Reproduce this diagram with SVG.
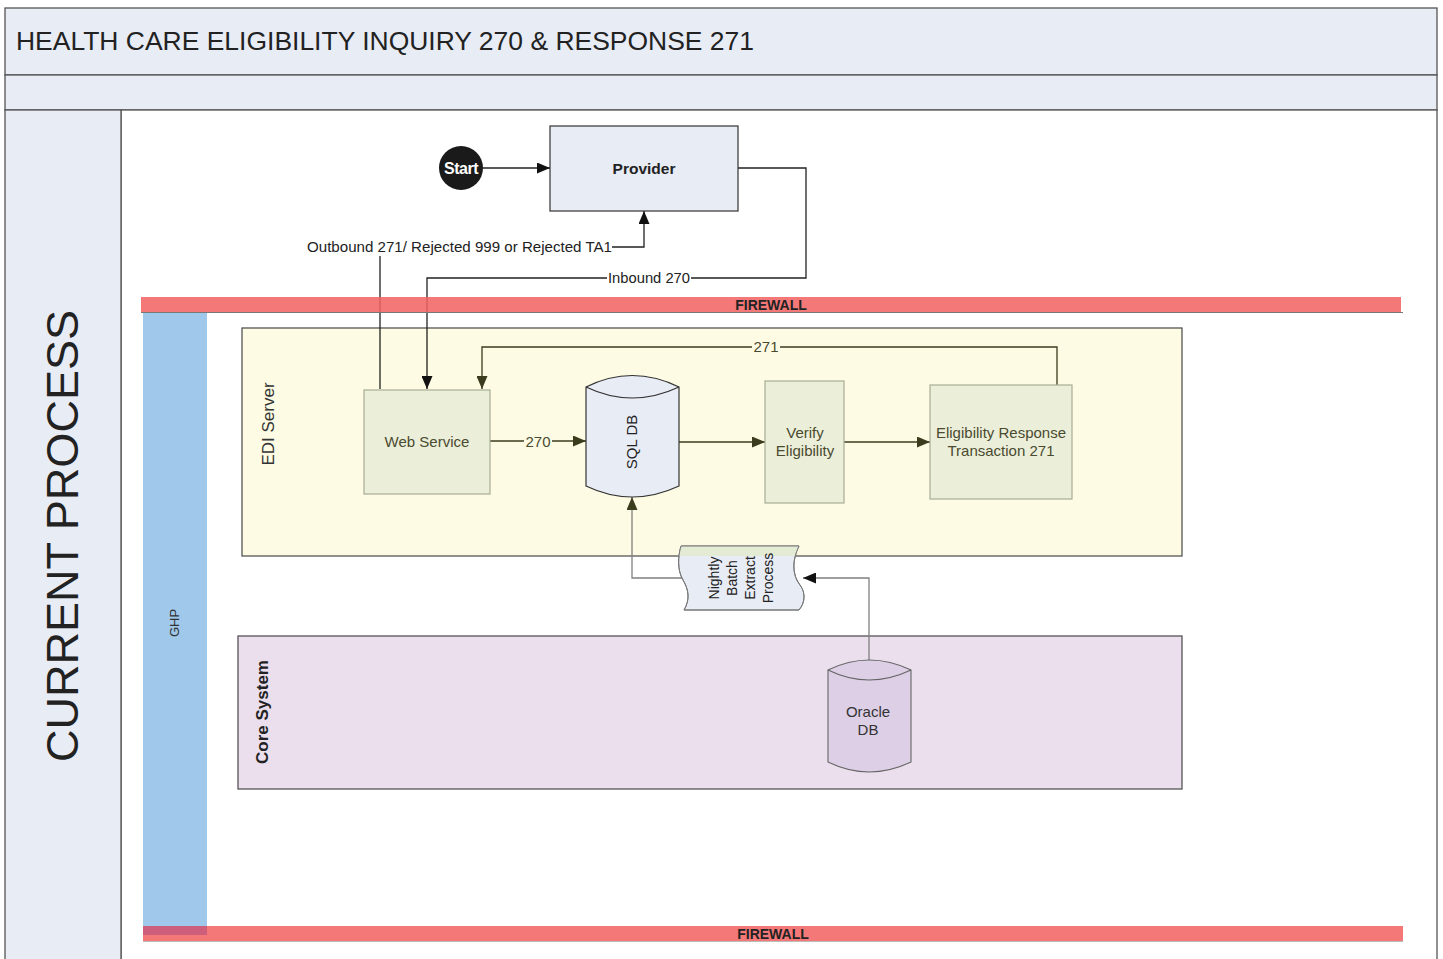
<svg xmlns="http://www.w3.org/2000/svg" width="1443" height="959" viewBox="0 0 1443 959">
<style>
text{font-family:"Liberation Sans",Arial,sans-serif;}
.band{fill:#e8ecf5;stroke:#555;stroke-width:1.3;}
.node{stroke-width:1;}
.lbl{font-size:15px;fill:#4a4a30;text-anchor:middle;}
.clbl{font-size:14.5px;fill:#222;text-anchor:middle;}
.conn{fill:none;stroke-width:1.3;}
.blk{stroke:#222;}
.olv{stroke:#3b3b1e;}
.gry{stroke:#808080;}
.fw{fill:#f26464;fill-opacity:0.87;}
.fwtxt{font-size:14px;font-weight:bold;fill:#222;text-anchor:middle;}
</style>
<defs>
<marker id="ahB" markerUnits="userSpaceOnUse" markerWidth="13" markerHeight="11" refX="13" refY="5.5" orient="auto"><path d="M0,0 L13,5.5 L0,11 z" fill="#111"/></marker>
<marker id="ahO" markerUnits="userSpaceOnUse" markerWidth="13" markerHeight="11" refX="13" refY="5.5" orient="auto"><path d="M0,0 L13,5.5 L0,11 z" fill="#3b3b1e"/></marker>
<clipPath id="topclip"><rect x="600" y="500" width="300" height="56"/></clipPath>
</defs>
<rect width="1443" height="959" fill="#fff"/>
<g id="frame">
<rect class="band" x="5" y="8" width="1432" height="67"/>
<text x="16" y="50" font-size="26" fill="#222" textLength="738" lengthAdjust="spacingAndGlyphs">HEALTH CARE ELIGIBILITY INQUIRY 270 &amp; RESPONSE 271</text>
<rect class="band" x="5" y="75" width="1432" height="35"/>
<rect x="121" y="110" width="1316" height="860" fill="#fff" stroke="#555" stroke-width="1.3"/>
<rect class="band" x="5" y="110" width="116" height="860"/>
<text transform="translate(78,536) rotate(-90)" font-size="45" fill="#222" text-anchor="middle" textLength="452" lengthAdjust="spacingAndGlyphs">CURRENT PROCESS</text>
</g>
<g id="ghp">
<rect x="143" y="313" width="64" height="622" fill="#9fc8ea"/>
<text transform="translate(179,623) rotate(-90)" font-size="13" fill="#333" text-anchor="middle">GHP</text>
</g>
<g id="edi-server">
<rect x="242" y="328" width="940" height="228" fill="#fdfbe3" stroke="#555" stroke-width="1.3"/>
<text transform="translate(274,424) rotate(-90)" font-size="17" fill="#333" text-anchor="middle">EDI Server</text>
</g>
<g id="core-system">
<rect x="238" y="636" width="944" height="153" fill="#ebdfee" stroke="#555" stroke-width="1.3"/>
<text transform="translate(268,712) rotate(-90)" font-size="17" font-weight="bold" fill="#222" text-anchor="middle">Core System</text>
</g>
<g id="connectors">
<path class="conn blk" d="M483,168 H550" marker-end="url(#ahB)"/>
<path class="conn blk" d="M738,168 H806 V278 H427 V389" marker-end="url(#ahB)"/>
<rect x="607" y="270" width="84" height="16" fill="#fff"/>
<text class="clbl" x="649" y="283" textLength="82" lengthAdjust="spacingAndGlyphs">Inbound 270</text>
<path class="conn blk" d="M380,389 V247 H644 V211" marker-end="url(#ahB)"/>
<rect x="305" y="238" width="307" height="18" fill="#fff"/>
<text class="clbl" x="459.5" y="252" textLength="305" lengthAdjust="spacingAndGlyphs">Outbound 271/ Rejected 999 or Rejected TA1</text>
<path class="conn olv" d="M490,441 H586" marker-end="url(#ahO)"/>
<rect x="524" y="433" width="28" height="16" fill="#fdfbe3"/>
<text class="lbl" x="538" y="447" fill="#333">270</text>
<path class="conn olv" d="M679,442 H765" marker-end="url(#ahO)"/>
<path class="conn olv" d="M844,442 H930" marker-end="url(#ahO)"/>
<path class="conn olv" d="M1057,385 V347 H482 V389" marker-end="url(#ahO)"/>
<rect x="752" y="339" width="28" height="16" fill="#fdfbe3"/>
<text class="lbl" x="766" y="352" fill="#333">271</text>
<path class="conn gry" d="M682,578 H632 V497" marker-end="url(#ahO)"/>
<path class="conn gry" d="M869,660 V578 H803" marker-end="url(#ahB)"/>
</g>
<g id="start">
<circle cx="461" cy="168" r="22" fill="#1a1a1a"/>
<text x="461" y="174" font-size="16" font-weight="bold" fill="#fff" text-anchor="middle" letter-spacing="-0.5">Start</text>
</g>
<g id="provider">
<rect x="550" y="126" width="188" height="85" fill="#e8ecf5" stroke="#333" stroke-width="1.2"/>
<text x="644" y="174" font-size="15.5" font-weight="bold" fill="#222" text-anchor="middle">Provider</text>
</g>
<g id="web-service">
<rect x="364" y="390" width="126" height="104" fill="#ebefd9" stroke="#a7ad93" stroke-width="1.2"/>
<text class="lbl" x="427" y="447">Web Service</text>
</g>
<g id="sql-db">
<path d="M586,387 Q632,364 679,387 V486 Q632,508 586,486 Z" fill="#e8ecf5" stroke="#333" stroke-width="1.2"/>
<path d="M586,387 Q632,409 679,387" fill="none" stroke="#333" stroke-width="1.2"/>
<text transform="translate(637,442) rotate(-90)" font-size="15" fill="#222" text-anchor="middle">SQL DB</text>
</g>
<g id="verify-eligibility">
<rect x="765" y="381" width="79" height="122" fill="#ebefd9" stroke="#a7ad93" stroke-width="1.2"/>
<text class="lbl" x="805" y="438">Verify</text>
<text class="lbl" x="805" y="456">Eligibility</text>
</g>
<g id="eligibility-response">
<rect x="930" y="385" width="142" height="114" fill="#ebefd9" stroke="#a7ad93" stroke-width="1.2"/>
<text class="lbl" x="1001" y="438">Eligibility Response</text>
<text class="lbl" x="1001" y="456">Transaction 271</text>
</g>
<g id="nightly-batch">
<path d="M681,546 H799 C792,560 792,575 800,585 C806,593 805,603 799,610 H684 C690,600 689,590 683,580 C677,570 678,556 681,546 Z" fill="#e8ecf5" stroke="#777" stroke-width="1"/>
<path d="M681,546 H799 C792,560 792,575 800,585 C806,593 805,603 799,610 H684 C690,600 689,590 683,580 C677,570 678,556 681,546 Z" fill="#e4ebd5" clip-path="url(#topclip)"/>
<path d="M681,546 H799 C792,560 792,575 800,585 C806,593 805,603 799,610 H684 C690,600 689,590 683,580 C677,570 678,556 681,546 Z" fill="none" stroke="#777" stroke-width="1"/>
<g font-size="14" fill="#222" text-anchor="middle">
<text transform="translate(719,578) rotate(-90)">Nightly</text>
<text transform="translate(737,578) rotate(-90)">Batch</text>
<text transform="translate(755,578) rotate(-90)">Extract</text>
<text transform="translate(773,578) rotate(-90)">Process</text>
</g>
</g>
<g id="oracle-db">
<path d="M828,670 Q869,650 911,670 V762 Q869,782 828,762 Z" fill="#dccfe6" stroke="#666" stroke-width="1.1"/>
<path d="M828,670 Q869,690 911,670" fill="none" stroke="#666" stroke-width="1.1"/>
<text x="868" y="717" font-size="15" fill="#333" text-anchor="middle">Oracle</text>
<text x="868" y="735" font-size="15" fill="#333" text-anchor="middle">DB</text>
</g>
<g id="firewall-top">
<rect class="fw" x="141" y="297" width="1260" height="16"/>
<line x1="141" y1="312.5" x2="1403" y2="312.5" stroke="#777" stroke-width="1"/>
<text class="fwtxt" x="771" y="310">FIREWALL</text>
</g>
<g id="firewall-bottom">
<rect class="fw" x="143" y="926" width="1260" height="16"/>
<rect x="143" y="926" width="64" height="9" fill="#cd5f7c"/>
<line x1="143" y1="941.5" x2="1403" y2="941.5" stroke="#bbb" stroke-width="1"/>
<text class="fwtxt" x="773" y="939">FIREWALL</text>
</g>
</svg>
